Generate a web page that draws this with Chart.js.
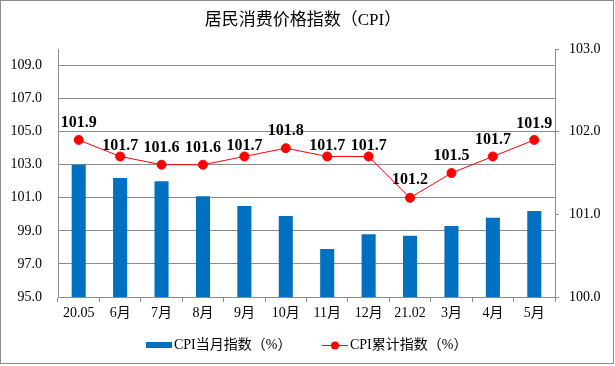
<!DOCTYPE html>
<html>
<head>
<meta charset="utf-8">
<script src="https://cdn.jsdelivr.net/npm/chart.js@4/dist/chart.umd.min.js"></script>
<style>
html,body{margin:0;padding:0;background:#fff;}
#wrap{width:615px;height:366px;position:relative;}
</style>
</head>
<body>
<div id="wrap"><canvas id="c" width="615" height="366"></canvas></div>
<script>
const categories = ['20.05','6月','7月','8月','9月','10月','11月','12月','21.02','3月','4月','5月'];
const monthlyCPI = [103.0,102.2,102.0,101.1,100.5,99.9,97.9,98.8,98.7,99.3,99.8,100.2];
const cumulativeCPI = [101.9,101.7,101.6,101.6,101.7,101.8,101.7,101.7,101.2,101.5,101.7,101.9];
const leftTicks = [95,97,99,101,103,105,107,109];
const rightTicks = [100,101,102,103];
const titleText = '居民消费价格指数（CPI）';
const legendLabels = ['CPI当月指数（%）','CPI累计指数（%）'];

const SERIF = "'Liberation Serif','Noto Sans CJK SC',serif";
const BLUE = '#0070C0';
const RED = '#FF0000';
const GRID = '#8c8c8c';

const decor = {
  id:'decor',
  afterDatasetsDraw(chart){
    const ctx = chart.ctx;
    const meta = chart.getDatasetMeta(0);
    // label lift above each point (px), as placed in the original
    const lift = [17,11,17,17,11,17,11,11,18,17,17,16];
    ctx.save();
    ctx.font = "bold 16px " + SERIF;
    ctx.fillStyle = '#000';
    ctx.textAlign = 'center';
    ctx.textBaseline = 'middle';
    meta.data.forEach((p,i)=>{
      ctx.fillText(cumulativeCPI[i].toFixed(1), p.x, p.y - lift[i]);
    });
    ctx.restore();
  },
  afterDraw(chart){
    const ctx = chart.ctx;
    ctx.save();
    ctx.strokeStyle = '#8c8c8c';
    ctx.lineWidth = 1;
    ctx.strokeRect(0.5,0.5,613,363);
    ctx.font = "17px " + SERIF;
    ctx.fillStyle = '#000';
    ctx.textAlign = 'center';
    ctx.textBaseline = 'middle';
    ctx.fillText(titleText, 303, 21);
    ctx.font = "14px " + SERIF;
    ctx.textAlign = 'left';
    ctx.fillStyle = BLUE;
    ctx.fillRect(146, 342, 26, 6);
    ctx.fillStyle = '#000';
    ctx.fillText(legendLabels[0], 174, 345);
    ctx.strokeStyle = RED;
    ctx.lineWidth = 1;
    ctx.beginPath(); ctx.moveTo(322,345.5); ctx.lineTo(348,345.5); ctx.stroke();
    ctx.fillStyle = RED;
    ctx.beginPath(); ctx.arc(335,345.5,4,0,Math.PI*2); ctx.fill();
    ctx.fillStyle = '#000';
    ctx.fillText(legendLabels[1], 350, 345);
    ctx.restore();
  }
};

new Chart(document.getElementById('c'), {
  type:'bar',
  data:{
    labels:categories,
    datasets:[
      {type:'line', label:legendLabels[1], data:cumulativeCPI, yAxisID:'y1',
       borderColor:RED, backgroundColor:RED, borderWidth:1,
       pointRadius:4.5, pointBackgroundColor:RED, pointBorderColor:RED, tension:0, order:0},
      {type:'bar', label:legendLabels[0], data:monthlyCPI, yAxisID:'y',
       backgroundColor:BLUE, barPercentage:0.34, categoryPercentage:1.0, order:1}
    ]
  },
  plugins:[decor],
  options:{
    responsive:false,
    animation:false,
    events:[],
    layout:{padding:{top:49,left:0,right:0,bottom:0}},
    plugins:{legend:{display:false}, title:{display:false}, tooltip:{enabled:false}},
    scales:{
      x:{
        offset:true,
        grid:{offset:true, drawOnChartArea:false, drawTicks:true, tickLength:5, color:GRID},
        border:{color:GRID},
        ticks:{font:{family:SERIF,size:14}, color:'#000', padding:3, maxRotation:0, autoSkip:false},
        afterFit(s){ s.height = 69; }
      },
      y:{
        position:'left', min:95, max:110,
        afterBuildTicks(s){ s.ticks = leftTicks.map(v=>({value:v})); },
        grid:{color:GRID, drawTicks:false},
        border:{color:GRID},
        ticks:{font:{family:SERIF,size:14}, color:'#000', padding:16, callback:v=>Number(v).toFixed(1)},
        afterFit(s){ s.width = 58; }
      },
      y1:{
        position:'right', min:100, max:103,
        afterBuildTicks(s){ s.ticks = rightTicks.map(v=>({value:v})); },
        grid:{drawOnChartArea:false, drawTicks:true, tickLength:4, color:GRID},
        border:{color:GRID},
        ticks:{font:{family:SERIF,size:14}, color:'#000', padding:10, callback:v=>Number(v).toFixed(1)},
        afterFit(s){ s.width = 60; }
      }
    }
  }
});
</script>
</body>
</html>
